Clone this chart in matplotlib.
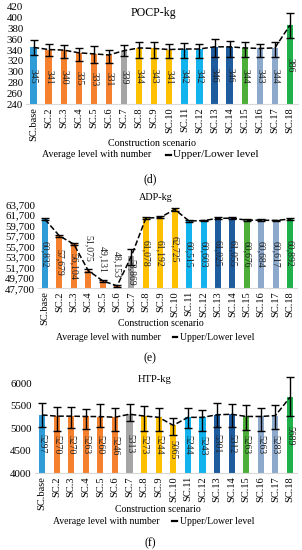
import numpy as np
import matplotlib
matplotlib.use('Agg')
from matplotlib import pyplot as plt
from matplotlib.lines import Line2D
from matplotlib.ticker import FuncFormatter

plt.rcParams['font.family'] = ['Liberation Serif', 'DejaVu Serif']

scenarios = ['SC.base'] + ['SC.%d' % i for i in range(2, 19)]
colors = ['#2F9BD7', '#F5812F', '#F5812F', '#F5812F', '#F5812F', '#F5812F',
          '#A5A5A5', '#FFC000', '#FFC000', '#FFC000', '#13B3EE', '#13B3EE',
          '#1F5C9E', '#1F5C9E', '#4DAE3A', '#8DA9CB', '#8DA9CB', '#20B04B']

# POCP-kg
pocp = [345, 341, 340, 335, 333, 331, 339, 344, 343, 341, 342, 342, 346, 346, 344, 343, 344, 386]
pocp_lo = [331, 329, 325, 320, 317, 316, 330, 326, 326, 326, 326, 326, 327, 327, 328, 327, 328, 362]
pocp_hi = [359, 352, 350, 344, 348, 341, 350, 355, 354, 352, 353, 352, 360, 357, 355, 352, 355, 408]

# ADP-kg
adp = [60832, 57679, 56104, 51075, 49131, 48153, 53869, 61078, 61192, 62725,
       60515, 60603, 61025, 61055, 60676, 60684, 60617, 60892]
adp_lo = [60650, 57500, 55930, 50850, 48900, 47950, 52150, 60900, 61000, 62450,
          60350, 60450, 60850, 60880, 60500, 60520, 60450, 60720]
adp_hi = [61000, 57850, 56280, 51300, 49350, 48350, 55130, 61250, 61380, 63000,
          60680, 60760, 61200, 61230, 60850, 60850, 60790, 61060]

# HTP-kg
htp = [5297, 5270, 5270, 5263, 5260, 5246, 5313, 5273, 5244, 5065,
       5244, 5243, 5301, 5312, 5263, 5263, 5283, 5689]
htp_lo = [5036, 4940, 5000, 4978, 5036, 4947, 5169, 4940, 4940, 4851,
          5000, 4940, 5022, 5022, 4962, 4947, 4978, 5270]
htp_hi = [5556, 5480, 5467, 5429, 5540, 5444, 5547, 5496, 5444, 5229,
          5444, 5407, 5562, 5533, 5526, 5444, 5526, 6147]

W, H = 302, 550
fig = plt.figure(figsize=(W / 100, H / 100), dpi=100)
renderer = fig.canvas.get_renderer()


def fit_text(x0, x1, y, s):
    # place text between x0 and x1 (pixels), scaling font to that width
    t = fig.text((x0 + x1) / 2 / W, 1 - y / H, s, ha='center', va='center', fontsize=8)
    w = t.get_window_extent(renderer).width
    t.set_fontsize(8 * (x1 - x0) / w)
    return t


def panel(box, vals, lo, hi, ylim, yticks, title, tag, ycs, cs_x, yleg, leg_x,
          ytag, comma=False, outside=()):
    left, top, right, bottom = box
    ax = fig.add_axes([left / W, 1 - bottom / H, (right - left) / W, (bottom - top) / H])
    x = np.arange(len(vals))
    vals = np.array(vals)
    ax.bar(x, vals - ylim[0], bottom=ylim[0], width=0.42, color=colors, zorder=1)
    err = [vals - np.array(lo), np.array(hi) - vals]
    ax.errorbar(x, vals, yerr=err, fmt='none', ecolor='black', elinewidth=1.0,
                capsize=3, capthick=1.0, zorder=3, clip_on=False)
    ax.plot(x, vals, 'k--', lw=1.1, zorder=2, clip_on=False)
    for i, v in enumerate(vals):
        s = format(v, ',') if comma else str(v)
        if i in outside:
            ax.text(i, v + (ylim[1] - ylim[0]) * 0.1, s, rotation=-90, ha='center',
                    va='bottom', fontsize=7, color='#222222')
        else:
            ax.text(i, (ylim[0] + v) / 2, s, rotation=-90, ha='center', va='center',
                    fontsize=7, color='#222222', zorder=4)
    ax.set_xlim(-0.5, len(vals) - 0.5)
    ax.set_ylim(*ylim)
    ax.set_yticks(yticks)
    if comma:
        ax.yaxis.set_major_formatter(FuncFormatter(lambda v, p: format(int(v), ',')))
    ax.set_xticks(x)
    ax.set_xticklabels(scenarios, rotation=90, fontsize=7.5)
    ax.tick_params(axis='y', labelsize=7.8, length=0, pad=2)
    ax.tick_params(axis='x', length=0, pad=2)
    for s in ['top', 'right', 'left']:
        ax.spines[s].set_visible(False)
    ax.spines['bottom'].set_color('#d9d9d9')
    fit_text(title[1], title[2], title[3], title[0])
    fit_text(cs_x[0], cs_x[1], ycs, 'Construction scenario')
    fit_text(leg_x[0], leg_x[1], yleg, 'Average level with number')
    fig.add_artist(Line2D([leg_x[2] / W, leg_x[3] / W], [1 - yleg / H] * 2,
                          color='black', lw=1.6))
    fit_text(leg_x[4], leg_x[5], yleg, 'Upper/Lower level')
    fig.text(150 / W, 1 - ytag / H, tag, ha='center', va='center', fontsize=8.5)
    return ax


panel((26, 6.7, 297.5, 104.3), pocp, pocp_lo, pocp_hi, (240, 420),
      np.arange(240, 421, 20), ('POCP-kg', 130, 176, 13), '(d)',
      143, (109, 196), 155, (43, 151, 166, 171, 173, 259), 179)
panel((37.8, 204.3, 297.2, 288.3), adp, adp_lo, adp_hi, (47700, 63700),
      np.arange(47700, 63701, 2000), ('ADP-kg', 139, 173, 197), '(e)',
      323, (118, 203), 337, (56, 160, 173, 177, 180, 254), 358,
      comma=True, outside=(3, 4, 5))
panel((34.7, 383.3, 297.3, 473.3), htp, htp_lo, htp_hi, (4000, 6000),
      np.arange(4000, 6001, 500), ('HTP-kg', 138, 172, 380), '(f)',
      510, (115, 200), 521, (53, 159, 172, 177, 180, 254), 543)

fig.savefig('out.png', dpi=100)
